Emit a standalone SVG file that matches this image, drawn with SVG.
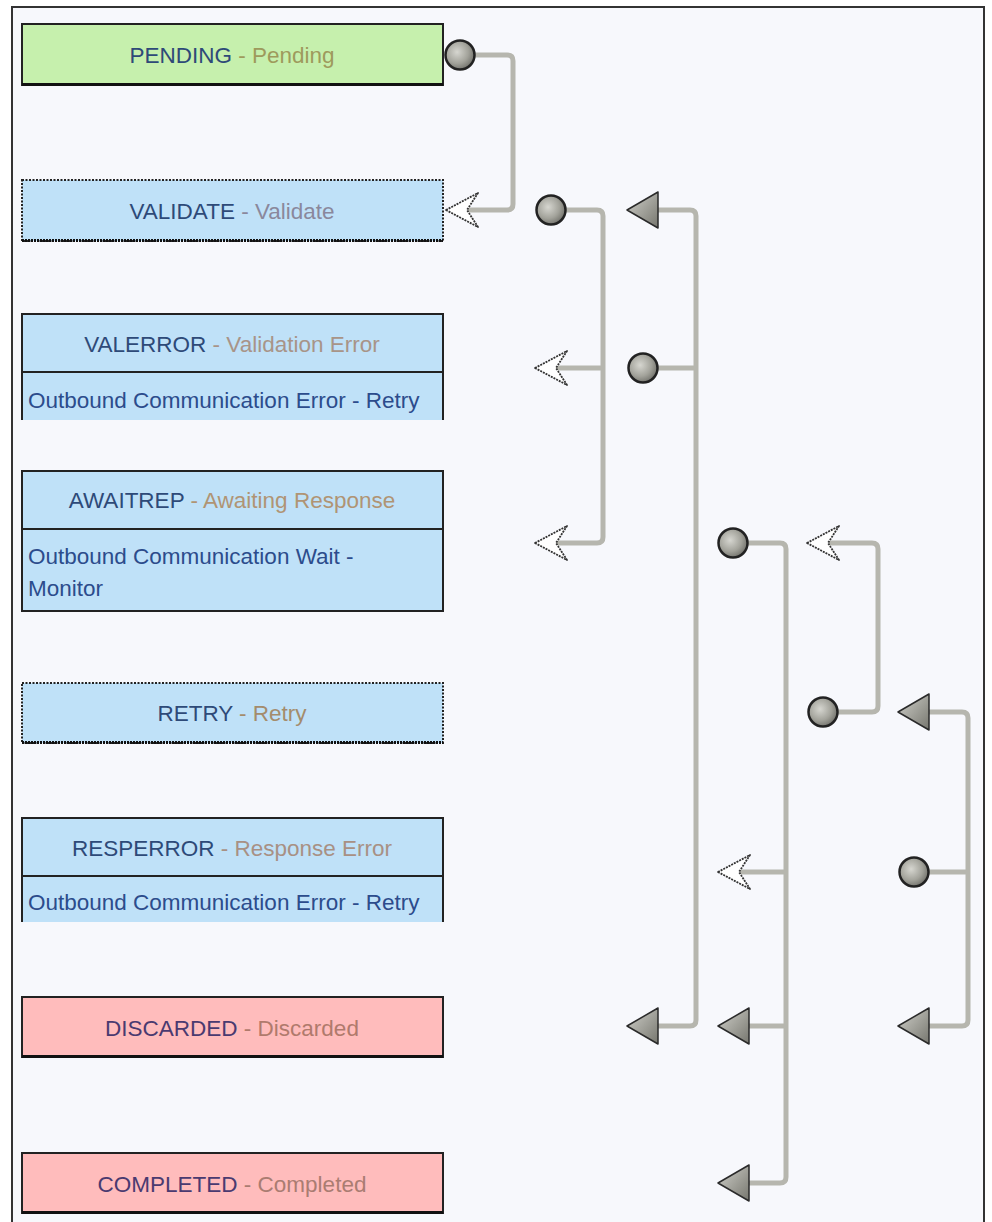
<svg xmlns="http://www.w3.org/2000/svg" width="992" height="1222" viewBox="0 0 992 1222">
<style>
.box{stroke:#222;stroke-width:2}
.dot{stroke:#222;stroke-width:2;stroke-dasharray:2 1.5}
.green{fill:#c6f0ad}
.blue{fill:#bfe1f8}
.pink{fill:#ffbcbc}
.t{font-family:"Liberation Sans",Arial,sans-serif;font-size:22.5px}
.code{fill:#2e4a78}
.code2{fill:#4a3a70}
.sub{fill:#2c4c8c}
.conn{fill:none;stroke:#b6b6ae;stroke-width:5;stroke-linejoin:round;stroke-linecap:butt}
</style>
<defs>
<radialGradient id="ballG" cx="0.4" cy="0.4" r="0.65">
<stop offset="0" stop-color="#d6d6d0"/>
<stop offset="0.6" stop-color="#a2a29a"/>
<stop offset="1" stop-color="#6e6e68"/>
</radialGradient>
<linearGradient id="triG" x1="0" y1="0" x2="1" y2="1">
<stop offset="0" stop-color="#d2d2cc"/>
<stop offset="1" stop-color="#76766e"/>
</linearGradient>
<g id="ball"><circle r="14.5" fill="url(#ballG)" stroke="#222" stroke-width="2.5"/></g>
<g id="tri"><path d="M0,0 L31,-18 L31,18 Z" fill="url(#triG)" stroke="#2a2a2a" stroke-width="1.5" stroke-linejoin="round"/></g>
<g id="open"><path d="M0,0 L32,-17 L21,0 L32,17 Z" fill="#ffffff" stroke="#333" stroke-width="1.8" stroke-dasharray="2 1" stroke-linejoin="round"/></g>
</defs>
<rect x="0" y="0" width="992" height="1222" fill="#ffffff"/>
<rect x="12" y="7" width="972" height="1230" fill="#f7f8fc" stroke="#333" stroke-width="2"/>

<g id="connectors">
<path class="conn" d="M474,55 H507 Q513,55 513,61 V204 Q513,210 507,210 H468"/>
<path class="conn" d="M565,210 H597 Q603,210 603,216 V537 Q603,543 597,543 H556 M603,368 H556"/>
<path class="conn" d="M657,368 H696 M658,210 H690 Q696,210 696,216 V1020 Q696,1026 690,1026 H658"/>
<path class="conn" d="M747,543 H780 Q786,543 786,549 V1177 Q786,1183 780,1183 H749 M786,872 H740 M786,1026 H749"/>
<path class="conn" d="M837,712 H872 Q878,712 878,706 V549 Q878,543 872,543 H829"/>
<path class="conn" d="M928,872 H968 M929,712 H962 Q968,712 968,718 V1020 Q968,1026 962,1026 H929"/>
<use href="#ball" x="460" y="55"/>
<use href="#open" x="446" y="210"/>
<use href="#ball" x="551" y="210"/>
<use href="#open" x="535" y="368"/>
<use href="#open" x="535" y="543"/>
<use href="#ball" x="643" y="368"/>
<use href="#tri" x="627" y="210"/>
<use href="#tri" x="627" y="1026"/>
<use href="#ball" x="733" y="543"/>
<use href="#open" x="718" y="872"/>
<use href="#tri" x="718" y="1026"/>
<use href="#tri" x="718" y="1183"/>
<use href="#ball" x="823" y="712"/>
<use href="#open" x="807" y="543"/>
<use href="#ball" x="914" y="872"/>
<use href="#tri" x="898" y="712"/>
<use href="#tri" x="898" y="1026"/>
</g>

<g id="node-pending">
<rect class="green box" x="22" y="24" width="421" height="61"/>
<line x1="22" y1="84.5" x2="443" y2="84.5" stroke="#111" stroke-width="3"/>
<text class="t" x="232" y="63" text-anchor="middle"><tspan class="code">PENDING</tspan><tspan fill="#9e9a5c"> - Pending</tspan></text>
</g>

<g id="node-validate">
<rect class="blue dot" x="22" y="180" width="421" height="61"/>
<line x1="22" y1="240.5" x2="443" y2="240.5" stroke="#111" stroke-width="3" stroke-dasharray="2 1"/>
<text class="t" x="232" y="219" text-anchor="middle"><tspan class="code">VALIDATE</tspan><tspan fill="#8a889c"> - Validate</tspan></text>
</g>

<g id="node-valerror">
<rect class="blue" x="22" y="314" width="421" height="106"/>
<path d="M22,420 V314 H443 V420" fill="none" stroke="#222" stroke-width="2"/>
<line x1="22" y1="372" x2="443" y2="372" stroke="#222" stroke-width="2"/>
<text class="t" x="232" y="352" text-anchor="middle"><tspan class="code">VALERROR</tspan><tspan fill="#a89488"> -  Validation Error</tspan></text>
<text class="t sub" x="28" y="408">Outbound Communication Error - Retry</text>
</g>

<g id="node-awaitrep">
<rect class="blue box" x="22" y="471" width="421" height="140"/>
<line x1="22" y1="529" x2="443" y2="529" stroke="#222" stroke-width="2"/>
<text class="t" x="232" y="508" text-anchor="middle"><tspan class="code">AWAITREP</tspan><tspan fill="#b09474"> -  Awaiting Response</tspan></text>
<text class="t sub" x="28" y="564">Outbound Communication Wait -</text>
<text class="t sub" x="28" y="596">Monitor</text>
</g>

<g id="node-retry">
<rect class="blue dot" x="22" y="683" width="421" height="60"/>
<line x1="22" y1="742.5" x2="443" y2="742.5" stroke="#111" stroke-width="3" stroke-dasharray="2 1"/>
<text class="t" x="232" y="721" text-anchor="middle"><tspan class="code">RETRY</tspan><tspan fill="#a48c6c"> - Retry</tspan></text>
</g>

<g id="node-resperror">
<rect class="blue" x="22" y="818" width="421" height="104"/>
<path d="M22,922 V818 H443 V922" fill="none" stroke="#222" stroke-width="2"/>
<line x1="22" y1="876" x2="443" y2="876" stroke="#222" stroke-width="2"/>
<text class="t" x="232" y="856" text-anchor="middle"><tspan class="code">RESPERROR</tspan><tspan fill="#a89084"> -  Response Error</tspan></text>
<text class="t sub" x="28" y="910">Outbound Communication Error - Retry</text>
</g>

<g id="node-discarded">
<rect class="pink box" x="22" y="997" width="421" height="60"/>
<line x1="22" y1="1056.5" x2="443" y2="1056.5" stroke="#111" stroke-width="3"/>
<text class="t" x="232" y="1036" text-anchor="middle"><tspan class="code2">DISCARDED</tspan><tspan fill="#b07a6c"> - Discarded</tspan></text>
</g>

<g id="node-completed">
<rect class="pink box" x="22" y="1153" width="421" height="60"/>
<line x1="22" y1="1212.5" x2="443" y2="1212.5" stroke="#111" stroke-width="3"/>
<text class="t" x="232" y="1192" text-anchor="middle"><tspan class="code2">COMPLETED</tspan><tspan fill="#aa7c72"> -  Completed</tspan></text>
</g>
</svg>
